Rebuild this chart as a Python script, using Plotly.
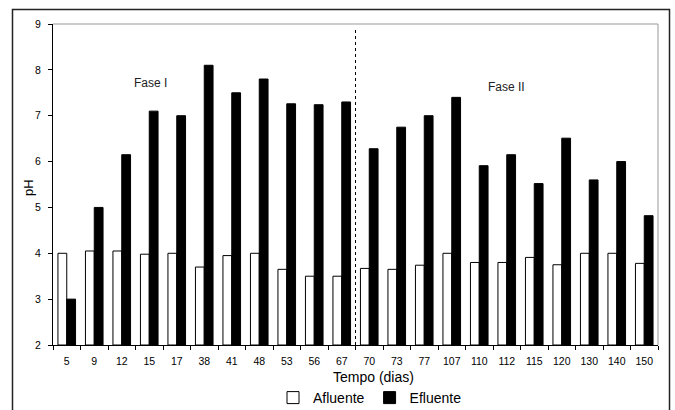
import plotly.graph_objects as go

days = ["5", "9", "12", "15", "17", "38", "41", "48", "53", "56", "67",
        "70", "73", "77", "107", "110", "112", "115", "120", "130", "140", "150"]
afluente = [4.0, 4.05, 4.05, 3.98, 4.0, 3.7, 3.95, 4.0, 3.65, 3.5, 3.5,
            3.67, 3.65, 3.74, 4.0, 3.8, 3.8, 3.91, 3.75, 4.0, 4.0, 3.78]
efluente = [3.0, 5.0, 6.15, 7.1, 7.0, 8.1, 7.5, 7.8, 7.26, 7.24, 7.3,
            6.28, 6.75, 7.0, 7.4, 5.91, 6.15, 5.52, 6.51, 5.6, 6.0, 4.82]

W, H = 675, 410
L, R, T, B = 53, 658, 24, 345

fig = go.Figure()
fig.add_trace(go.Bar(x=days, y=[v - 2 for v in afluente], base=2, name="Afluente",
                     marker=dict(color="white", line=dict(color="#000000", width=1)),
                     hoverinfo="skip"))
fig.add_trace(go.Bar(x=days, y=[v - 2 for v in efluente], base=2, name="Efluente",
                     marker=dict(color="black", line=dict(color="#000000", width=1)),
                     hoverinfo="skip"))

def px2paper_x(px):
    return (px - L) / (R - L)

def px2paper_y(py):
    return (B - py) / (B - T)

shapes = [
    # outer border
    dict(type="rect", xref="paper", yref="paper",
         x0=px2paper_x(12.5), x1=px2paper_x(669.5), y0=px2paper_y(420), y1=px2paper_y(9.5),
         line=dict(color="#222222", width=1.5), fillcolor="rgba(0,0,0,0)", layer="below"),
    # top frame
    dict(type="line", xref="paper", yref="paper", x0=0, x1=1, y0=1, y1=1,
         line=dict(color="#999999", width=1)),
    # right frame
    dict(type="line", xref="paper", yref="paper", x0=1, x1=1, y0=0, y1=1,
         line=dict(color="#999999", width=1)),
    # phase divider
    dict(type="line", xref="x", yref="y", x0=10.5, x1=10.5, y0=2, y1=8.88,
         line=dict(color="black", width=1, dash="dot")),
]

fig.update_layout(
    width=W, height=H,
    margin=dict(l=L, r=W - R, t=T, b=H - B, autoexpand=False),
    paper_bgcolor="white", plot_bgcolor="white",
    font=dict(family="Liberation Sans, Arial, sans-serif", color="black"),
    barmode="group", bargap=0.36, bargroupgap=0.0,
    showlegend=True,
    legend=dict(orientation="h", x=370 / W, xanchor="center", xref="container",
                y=1 - 398 / H, yanchor="middle", yref="container",
                font=dict(size=14), traceorder="normal", bgcolor="rgba(0,0,0,0)",
                itemwidth=30),
    xaxis=dict(type="category", showline=True, linecolor="black", linewidth=1,
               ticks="outside", tickson="boundaries", ticklen=4, tickcolor="black",
               tickfont=dict(size=10.5), showgrid=False, ticklabelstandoff=6,
               automargin=False),
    yaxis=dict(range=[2, 9], dtick=1, showline=True, linecolor="black", linewidth=1,
               ticks="outside", ticklen=4, tickcolor="black", tickfont=dict(size=10.5),
               showgrid=False, zeroline=False, ticklabelstandoff=5, automargin=False),
    shapes=shapes,
    annotations=[
        dict(x=3.03, y=7.72, xref="x", yref="y", text="Fase I", showarrow=False,
             font=dict(size=12, color="#222222")),
        dict(x=16.0, y=7.63, xref="x", yref="y", text="Fase II", showarrow=False,
             font=dict(size=12, color="#222222")),
        dict(x=373.5 / W, y=1 - 377 / H, xref="paper", yref="paper",
             text="Tempo (dias)", showarrow=False, font=dict(size=14),
             xanchor="center", yanchor="middle"),
        dict(x=29 / W, y=1 - 188 / H, xref="paper", yref="paper",
             text="pH", showarrow=False, font=dict(size=13), textangle=-90,
             xanchor="center", yanchor="middle"),
    ],
)

# annotations for axis titles use full-figure fractions; convert to paper coords
for a in fig.layout.annotations[2:]:
    a.x = px2paper_x(a.x * W)
    a.y = px2paper_y((1 - a.y) * H)

fig.write_html("out.html")
